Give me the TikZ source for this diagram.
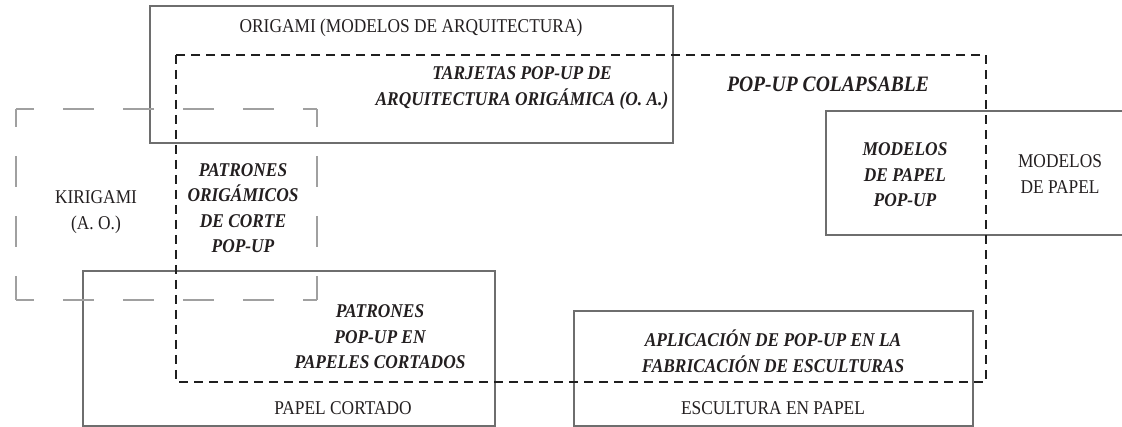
\documentclass[tikz,border=0pt]{standalone}
\usepackage{fontspec}
\setmainfont{Liberation Serif}[FakeStretch=0.89]
\definecolor{boxgray}{HTML}{6E6E6E}
\definecolor{kirigray}{HTML}{A0A0A0}
\definecolor{textcol}{HTML}{231F20}
\begin{document}
\begin{tikzpicture}[x=1pt,y=-1pt,
  solidbox/.style={draw=boxgray,line width=2pt},
  kiribox/.style={draw=kirigray,line width=2pt,dash pattern=on 31pt off 29pt,dash phase=13pt},
  popbox/.style={draw=black!88,line width=2pt,dash pattern=on 9pt off 6pt},
  plainlbl/.style={font=\fontsize{19.5}{25.5}\selectfont,align=center,text=textcol,inner sep=0pt},
  emphlbl/.style={font=\fontsize{19.5}{25.5}\selectfont\bfseries\itshape,align=center,text=textcol,inner sep=0pt}]
\useasboundingbox (0,0) rectangle (1122,427);
% corners
\coordinate (oriA) at (150,6);   \coordinate (oriB) at (673,143);
\coordinate (kA) at (16,109);    \coordinate (kB) at (317,109);
\coordinate (kC) at (317,300);   \coordinate (kD) at (16,300);
\coordinate (popA) at (176,55);  \coordinate (popB) at (986,382);
\coordinate (pcA) at (83,271);   \coordinate (pcB) at (495,426);
\coordinate (esA) at (574,311);  \coordinate (esB) at (973,426);
\coordinate (moA) at (826,111);  \coordinate (moB) at (1124,235);
% boxes
\draw[solidbox] (oriA) rectangle (oriB);
\draw[solidbox] (pcA) rectangle (pcB);
\draw[solidbox] (esA) rectangle (esB);
\draw[solidbox] (moA) rectangle (moB);
\draw[kiribox] (kA) -- (kB);
\draw[kiribox] (kB) -- (kC);
\draw[kiribox] (kD) -- (kC);
\draw[kiribox] (kA) -- (kD);
\draw[popbox] (popA) rectangle (popB);
% labels
\node[plainlbl] (origami) at (411,28) {ORIGAMI (MODELOS DE ARQUITECTURA)};
\node[emphlbl] (tarjetas) at (522,88) {TARJETAS POP-UP DE\\ARQUITECTURA ORIGÁMICA (O. A.)};
\node[emphlbl,font=\fontsize{22}{26}\selectfont\bfseries\itshape] (colapsable) at (828,84) {POP-UP COLAPSABLE};
\node[plainlbl] (kirigami) at (96,212) {KIRIGAMI\\(A. O.)};
\node[emphlbl] (origcorte) at (243,208) {PATRONES\\ORIGÁMICOS\\DE CORTE\\POP-UP};
\node[emphlbl] (mpp) at (905,175) {MODELOS\\DE PAPEL\\POP-UP};
\node[plainlbl] (mp) at (1060,174) {MODELOS\\DE PAPEL};
\node[emphlbl] (ppc) at (380,337) {PATRONES\\POP-UP EN\\PAPELES CORTADOS};
\node[plainlbl] (pcl) at (343,408) {PAPEL CORTADO};
\node[emphlbl] (aplic) at (773,351) {APLICACIÓN DE POP-UP EN LA\\FABRICACIÓN DE ESCULTURAS};
\node[plainlbl] (esl) at (773,408) {ESCULTURA EN PAPEL};
\end{tikzpicture}
\end{document}
